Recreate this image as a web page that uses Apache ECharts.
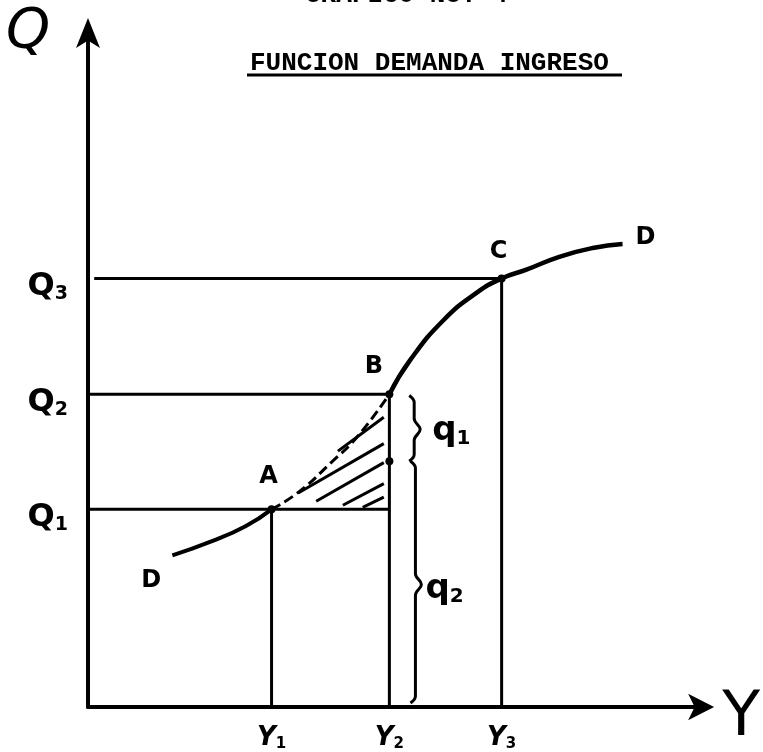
<!DOCTYPE html>
<html>
<head>
<meta charset="utf-8">
<script src="https://cdn.jsdelivr.net/npm/echarts@6/dist/echarts.min.js"></script>
<style>
  html, body { margin: 0; padding: 0; background: #fff; }
  #main { width: 763px; height: 752px; }
</style>
</head>
<body>
<div id="main"></div>
<script>
// ingreso (Y) y cantidad (Q) de los puntos A, B, C
const yVals = [29.6, 48.6, 66.7];
const yNames = ['1', '2', '3'];
const qVals = [29.2, 46.2, 63.3];
const qNames = ['1', '2', '3'];

// curva D-D, por tramos
const curveDA = [[13.6, 22.4], [20.0, 24.5], [25.4, 26.7], [29.6, 29.2]];
const curveAB = [[29.6, 29.2], [33.9, 31.7], [39.2, 36.1], [43.5, 40.0], [48.6, 46.2]];
const curveBD = [[48.6, 46.2], [52.0, 51.3], [57.4, 57.2], [62.7, 61.2], [66.7, 63.3],
                 [70.7, 64.6], [76.0, 66.5], [81.4, 67.8], [86.2, 68.4]];

// lineas horizontales: inicio y fin en Y
const hStart = [0, 0, 1.0];
const hEnd = [48.6, 48.6, 66.7];

// rayado del triangulo A-B
const hatch = [
  [[40.3, 37.8], [47.7, 42.8]],
  [[33.9, 31.6], [47.7, 38.9]],
  [[36.8, 30.4], [47.7, 36.1]],
  [[41.1, 29.8], [47.7, 33.0]],
  [[44.3, 29.5], [47.7, 31.0]]
];

// llaves q1 y q2
const braces = [
  { x: 51.8, top: 46.0, bottom: 36.3, mid: 41.0, label: '1', lx: 58.6, ly: 40.8 },
  { x: 52.0, top: 36.3, bottom: 0.6, mid: 18.1, label: '2', lx: 57.5, ly: 17.4 }
];
const braceDot = [48.6, 36.3];

// letras de la curva
const curveLabels = [
  { name: 'A', value: [29.1, 34.0] },
  { name: 'B', value: [46.1, 50.3] },
  { name: 'C', value: [66.2, 67.3] },
  { name: 'D', value: [10.2, 18.6] },
  { name: 'D', value: [89.9, 69.3] }
];

const hand = 'DejaVu Sans';
const black = '#000';

function seg(data, width, dash) {
  return {
    type: 'line', data: data, symbol: 'none', silent: true,
    lineStyle: { color: black, width: width, type: dash || 'solid' },
    z: 3
  };
}

function bracePath(b) {
  const w = 0.8;
  return [
    [b.x, b.top], [b.x + w, b.top - 1.0], [b.x + w, b.mid + 1.6],
    [b.x + 2.2 * w, b.mid], [b.x + w, b.mid - 1.6], [b.x + w, b.bottom + 1.0],
    [b.x, b.bottom]
  ];
}

const series = [];
series.push(Object.assign(seg(curveDA, 4), { smooth: true }));
series.push(Object.assign(seg(curveAB, 3, [10, 5]), { smooth: true }));
series.push(Object.assign(seg(curveBD, 4.5), { smooth: true }));

for (let i = 0; i < 3; i++) {
  series.push(seg([[hStart[i], qVals[i]], [hEnd[i], qVals[i]]], 3));
  series.push(seg([[yVals[i], 0], [yVals[i], qVals[i]]], 3));
}
hatch.forEach(h => series.push(seg(h, 3)));
braces.forEach(b => {
  series.push(Object.assign(seg(bracePath(b), 3), { smooth: 0.4 }));
});

series.push({
  type: 'scatter', symbolSize: 8, itemStyle: { color: black, opacity: 1 }, z: 4,
  data: yVals.map((v, i) => [v, qVals[i]]).concat([braceDot])
});

series.push({
  type: 'scatter', symbolSize: 0, z: 5,
  itemStyle: { opacity: 1 },
  data: curveLabels,
  label: {
    show: true, position: 'inside', formatter: '{b}', opacity: 1,
    fontFamily: hand, fontWeight: 'bold', fontSize: 24, color: black, textBorderWidth: 0
  }
});

series.push({
  type: 'scatter', symbolSize: 0, z: 5,
  itemStyle: { opacity: 1 },
  data: braces.map(b => ({ name: b.label, value: [b.lx, b.ly] })),
  label: {
    show: true, position: 'inside', color: black, textBorderWidth: 0, opacity: 1,
    formatter: p => '{q|q}{s|' + p.name + '}',
    rich: {
      q: { fontFamily: hand, fontWeight: 'bold', fontSize: 34, color: black },
      s: { fontFamily: hand, fontWeight: 'bold', fontSize: 20, color: black, verticalAlign: 'bottom', padding: [16, 0, 0, 0] }
    }
  }
});

const myChart = echarts.init(document.getElementById('main'));
const option = {
  backgroundColor: '#fff',
  animation: false,
  title: [
    {
      text: 'GRAFICO No. 4', left: 300, top: -23,
      textStyle: { fontFamily: 'Liberation Mono', fontWeight: 'bold', fontSize: 26, color: black }
    },
    {
      text: 'FUNCION DEMANDA INGRESO', left: 245, top: 45,
      textStyle: { fontFamily: 'Liberation Mono', fontWeight: 'bold', fontSize: 26, color: black }
    }
  ],
  graphic: [
    { type: 'line', shape: { x1: 247, y1: 75, x2: 622, y2: 75 }, style: { stroke: black, lineWidth: 3 } }
  ],
  grid: { left: 88, right: 50, top: 30, bottom: 44 },
  xAxis: {
    type: 'value', min: 0, max: 100,
    name: '{y|Y}', nameLocation: 'end', nameGap: 14,
    nameTextStyle: {
      verticalAlign: 'middle',
      rich: { y: { fontFamily: hand, fontSize: 62, color: black, padding: [24, 0, 0, 0] } }
    },
    axisLine: { lineStyle: { color: black, width: 4 }, symbol: ['none', 'arrow'], symbolSize: [20, 26], symbolOffset: [0, 6] },
    axisTick: { show: false },
    splitLine: { show: false },
    axisLabel: {
      customValues: yVals,
      margin: 18,
      formatter: v => '{b|Y}{s|' + yNames[yVals.indexOf(v)] + '}',
      rich: {
        b: { fontFamily: hand, fontWeight: 'bold', fontStyle: 'italic', fontSize: 26, color: black },
        s: { fontFamily: hand, fontWeight: 'bold', fontSize: 15, color: black, verticalAlign: 'bottom', padding: [12, 0, 0, 0] }
      }
    }
  },
  yAxis: {
    type: 'value', min: 0, max: 100,
    name: 'Q', nameLocation: 'end', nameGap: 26,
    nameTextStyle: { fontFamily: hand, fontStyle: 'italic', fontSize: 56, color: black, align: 'right', verticalAlign: 'top', padding: [0, 38, 0, 0] },
    axisLine: { lineStyle: { color: black, width: 4 }, symbol: ['none', 'arrow'], symbolSize: [18, 30], symbolOffset: [0, 12] },
    axisTick: { show: false },
    splitLine: { show: false },
    axisLabel: {
      customValues: qVals,
      margin: 20,
      padding: [16, 0, 0, 0],
      formatter: v => '{b|Q}{s|' + qNames[qVals.indexOf(v)] + '}',
      rich: {
        b: { fontFamily: hand, fontWeight: 'bold', fontSize: 32, color: black },
        s: { fontFamily: hand, fontWeight: 'bold', fontSize: 19, color: black, verticalAlign: 'bottom', padding: [16, 0, 0, 0] }
      }
    }
  },
  series: series
};
myChart.setOption(option);
</script>
</body>
</html>
